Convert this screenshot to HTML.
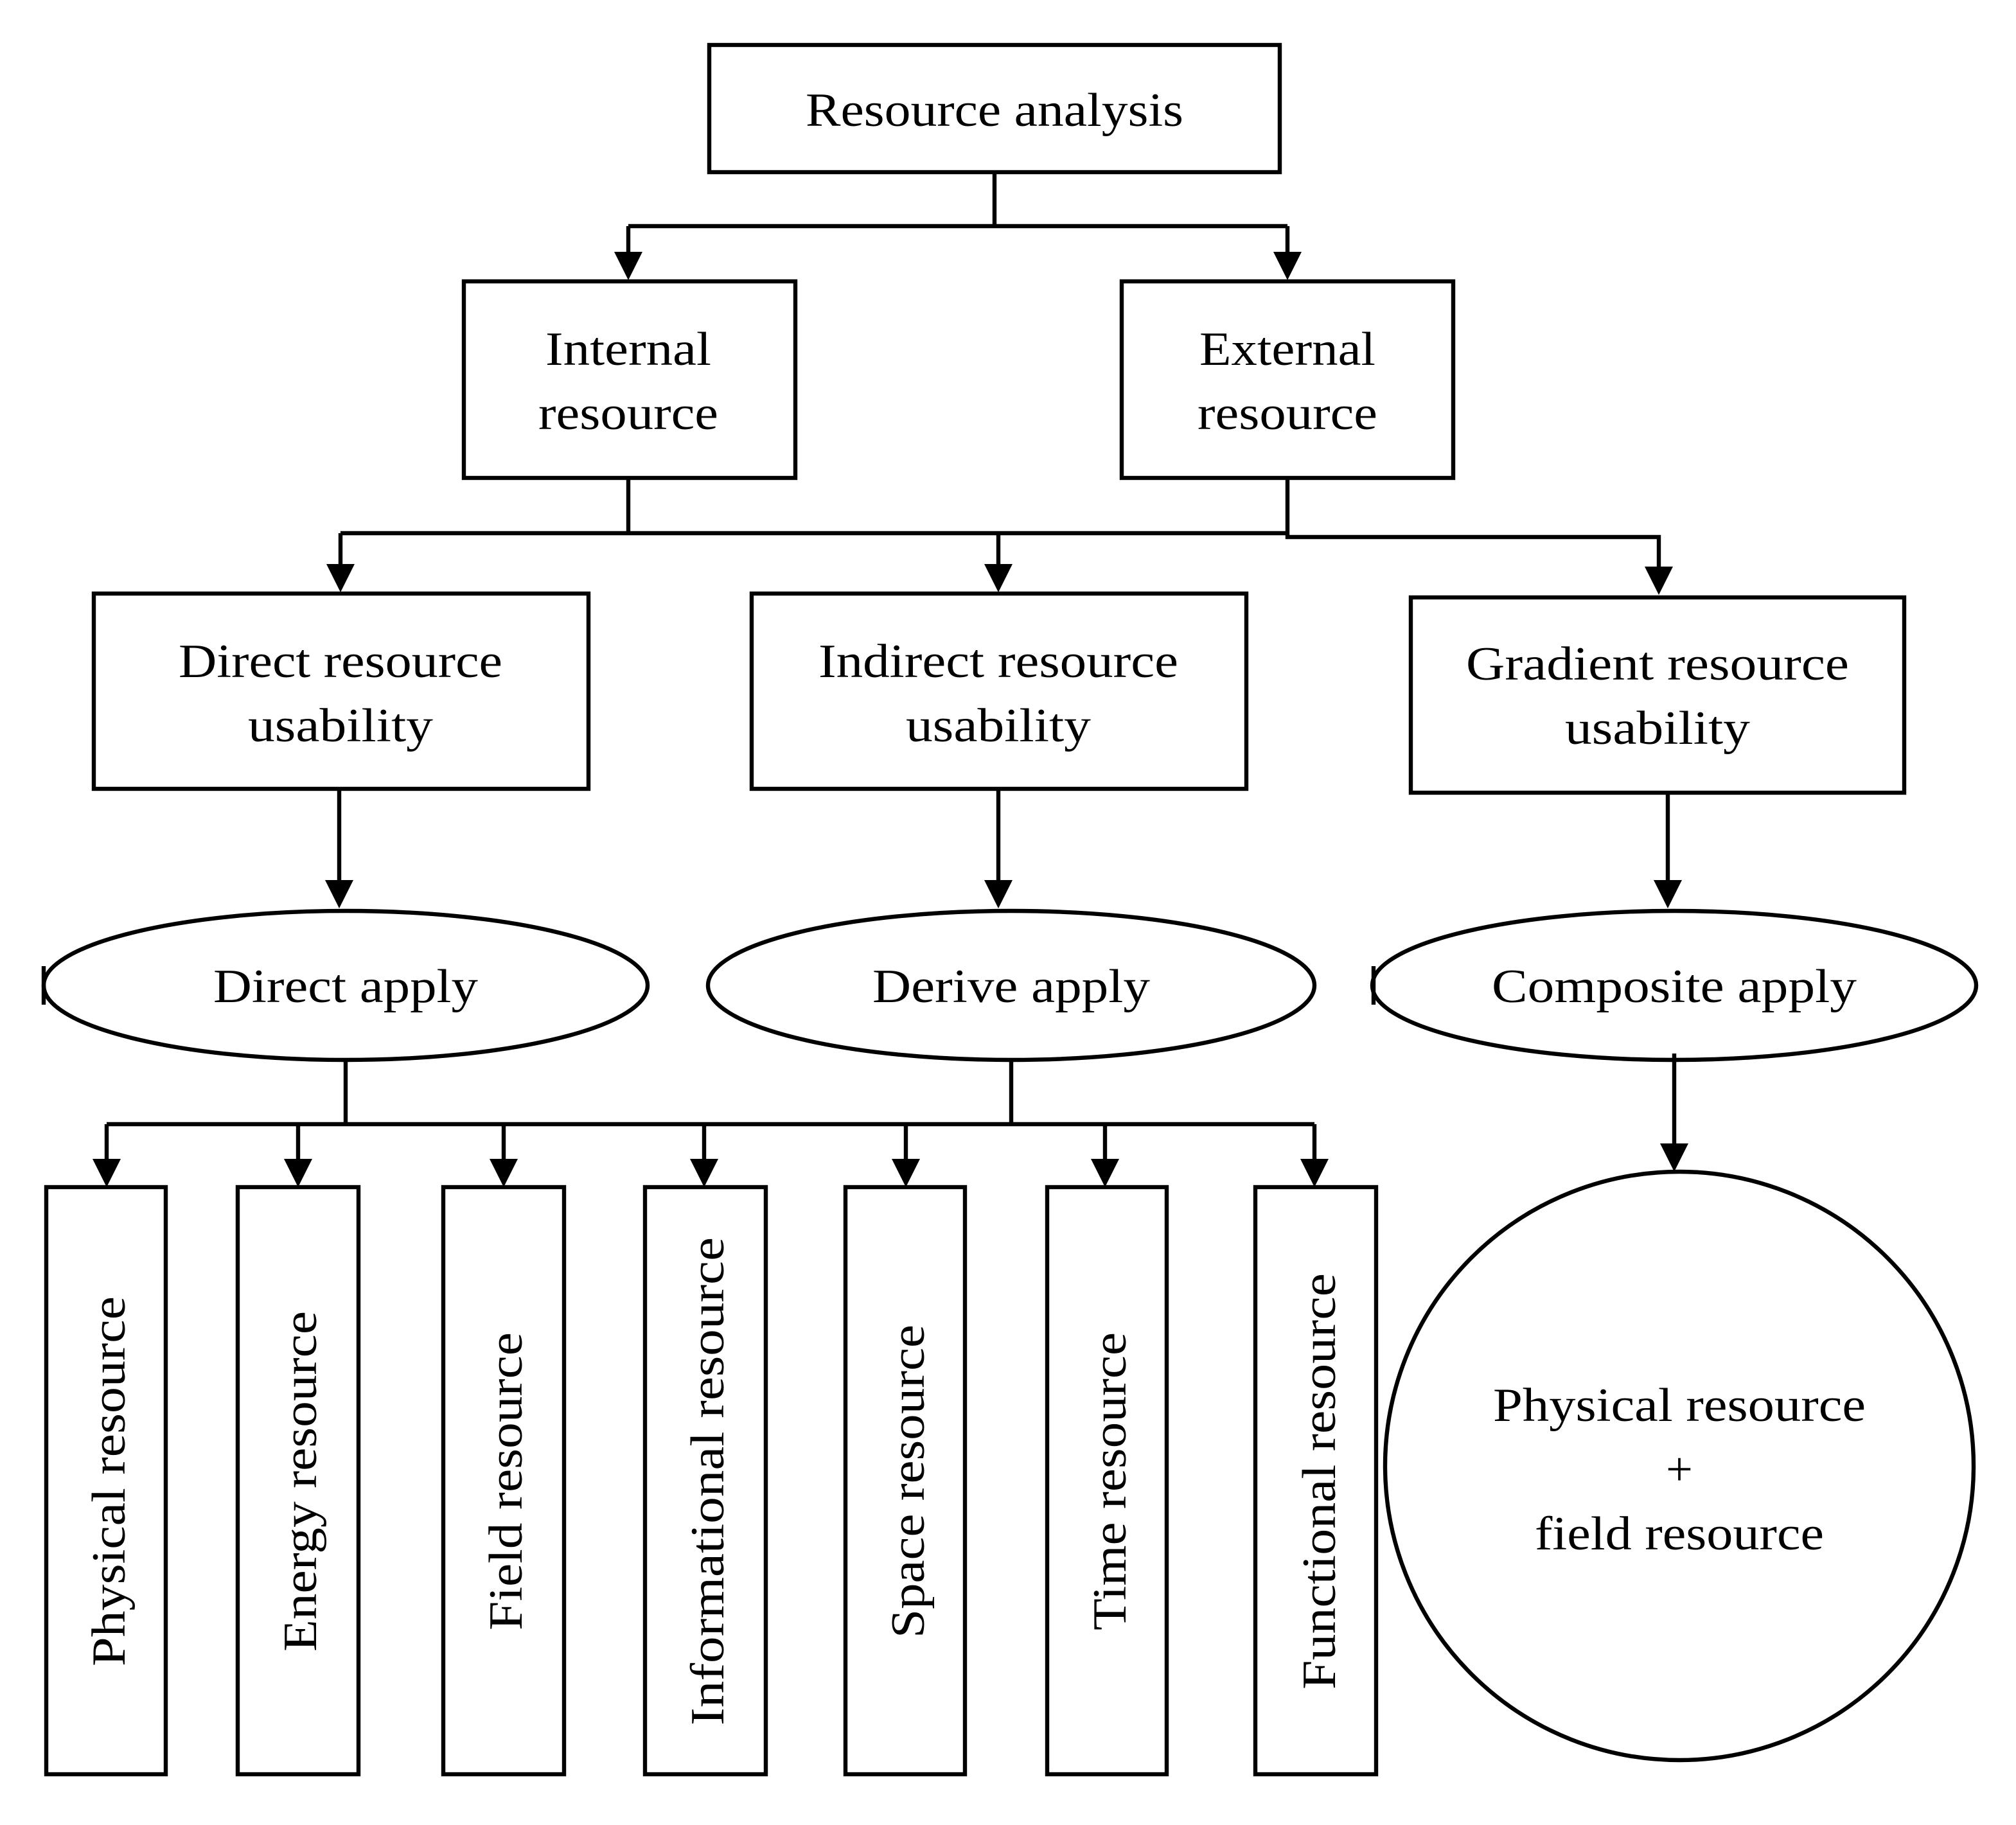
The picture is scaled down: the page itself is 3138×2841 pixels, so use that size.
<!DOCTYPE html>
<html><head><meta charset="utf-8"><style>
html,body{margin:0;padding:0;background:#fff;}
svg{display:block;}
text{font-family:"Liberation Serif",serif;font-size:37px;fill:#000;}
</style></head><body>
<svg width="3138" height="2841" viewBox="0 0 1569 1420.5" xmlns="http://www.w3.org/2000/svg">
<g fill="none" stroke="#000" stroke-width="3.2">
<rect x="552" y="35" width="444" height="99"/>
<rect x="361" y="219" width="258" height="153"/>
<rect x="873" y="219" width="258" height="153"/>
<rect x="73" y="462" width="385" height="152"/>
<rect x="585" y="462" width="385" height="152"/>
<rect x="1098" y="465" width="384" height="152"/>
<ellipse cx="269" cy="767" rx="235" ry="58"/>
<ellipse cx="787" cy="767" rx="236" ry="58"/>
<ellipse cx="1303" cy="767" rx="235" ry="58"/>
<circle cx="1307" cy="1141" r="229"/>
<rect x="36" y="924" width="93" height="457"/>
<rect x="185" y="924" width="94" height="457"/>
<rect x="345" y="924" width="94" height="457"/>
<rect x="502" y="924" width="94" height="457"/>
<rect x="658" y="924" width="93" height="457"/>
<rect x="815" y="924" width="93" height="457"/>
<rect x="977" y="924" width="94" height="457"/>
<path d="M774 134V176M489 176H1002M489 176V198M1002 176V198"/>
<path d="M489 372V415M265 415H1002M265 415V441M777 415V441M1002 372V418H1291V443"/>
<path d="M264 614V687M777 614V687M1298 617V687"/>
<path d="M269 825V875M787 825V875M83 875H1023"/>
<path d="M83 875V904M232 875V904M392 875V904M548 875V904M705 875V904M860 875V904M1023 875V904"/>
<path d="M1303 820V892"/>
<path d="M34 752V782M1069 752V782"/>
</g>
<g fill="#000">
<path d="M478 196h22l-11 22z"/><path d="M991 196h22l-11 22z"/>
<path d="M254 439h22l-11 22z"/><path d="M766 439h22l-11 22z"/><path d="M1280 441h22l-11 22z"/>
<path d="M253 685h22l-11 22z"/><path d="M766 685h22l-11 22z"/><path d="M1287 685h22l-11 22z"/>
<path d="M72 902h22l-11 22z"/><path d="M221 902h22l-11 22z"/><path d="M381 902h22l-11 22z"/><path d="M537 902h22l-11 22z"/><path d="M694 902h22l-11 22z"/><path d="M849 902h22l-11 22z"/><path d="M1012 902h22l-11 22z"/>
<path d="M1292 890h22l-11 22z"/>
</g>
<g text-anchor="middle" lengthAdjust="spacingAndGlyphs">
<text x="774" y="98" textLength="294" lengthAdjust="spacingAndGlyphs">Resource analysis</text>
<text x="489" y="284" textLength="129" lengthAdjust="spacingAndGlyphs">Internal</text><text x="489" y="334" textLength="140" lengthAdjust="spacingAndGlyphs">resource</text>
<text x="1002" y="284" textLength="137" lengthAdjust="spacingAndGlyphs">External</text><text x="1002" y="334" textLength="140" lengthAdjust="spacingAndGlyphs">resource</text>
<text x="265" y="527" textLength="252" lengthAdjust="spacingAndGlyphs">Direct resource</text><text x="265" y="577" textLength="144" lengthAdjust="spacingAndGlyphs">usability</text>
<text x="777" y="527" textLength="280" lengthAdjust="spacingAndGlyphs">Indirect resource</text><text x="777" y="577" textLength="144" lengthAdjust="spacingAndGlyphs">usability</text>
<text x="1290" y="529" textLength="298" lengthAdjust="spacingAndGlyphs">Gradient resource</text><text x="1290" y="579" textLength="144" lengthAdjust="spacingAndGlyphs">usability</text>
<text x="269" y="780" textLength="206" lengthAdjust="spacingAndGlyphs">Direct apply</text>
<text x="787" y="780" textLength="216" lengthAdjust="spacingAndGlyphs">Derive apply</text>
<text x="1303" y="780" textLength="284" lengthAdjust="spacingAndGlyphs">Composite apply</text>
<text x="1307" y="1106" textLength="290" lengthAdjust="spacingAndGlyphs">Physical resource</text>
<text x="1307" y="1156">+</text>
<text x="1307" y="1206" textLength="225" lengthAdjust="spacingAndGlyphs">field resource</text>
<text transform="translate(97,1153) rotate(-90)" textLength="288" lengthAdjust="spacingAndGlyphs">Physical resource</text>
<text transform="translate(246,1153) rotate(-90)" textLength="265" lengthAdjust="spacingAndGlyphs">Energy resource</text>
<text transform="translate(406,1153) rotate(-90)" textLength="232" lengthAdjust="spacingAndGlyphs">Field resource</text>
<text transform="translate(563,1153) rotate(-90)" textLength="380" lengthAdjust="spacingAndGlyphs">Informational resource</text>
<text transform="translate(719,1153) rotate(-90)" textLength="244" lengthAdjust="spacingAndGlyphs">Space resource</text>
<text transform="translate(876,1153) rotate(-90)" textLength="232" lengthAdjust="spacingAndGlyphs">Time resource</text>
<text transform="translate(1039,1153) rotate(-90)" textLength="324" lengthAdjust="spacingAndGlyphs">Functional resource</text>
</g>
</svg>
</body></html>
